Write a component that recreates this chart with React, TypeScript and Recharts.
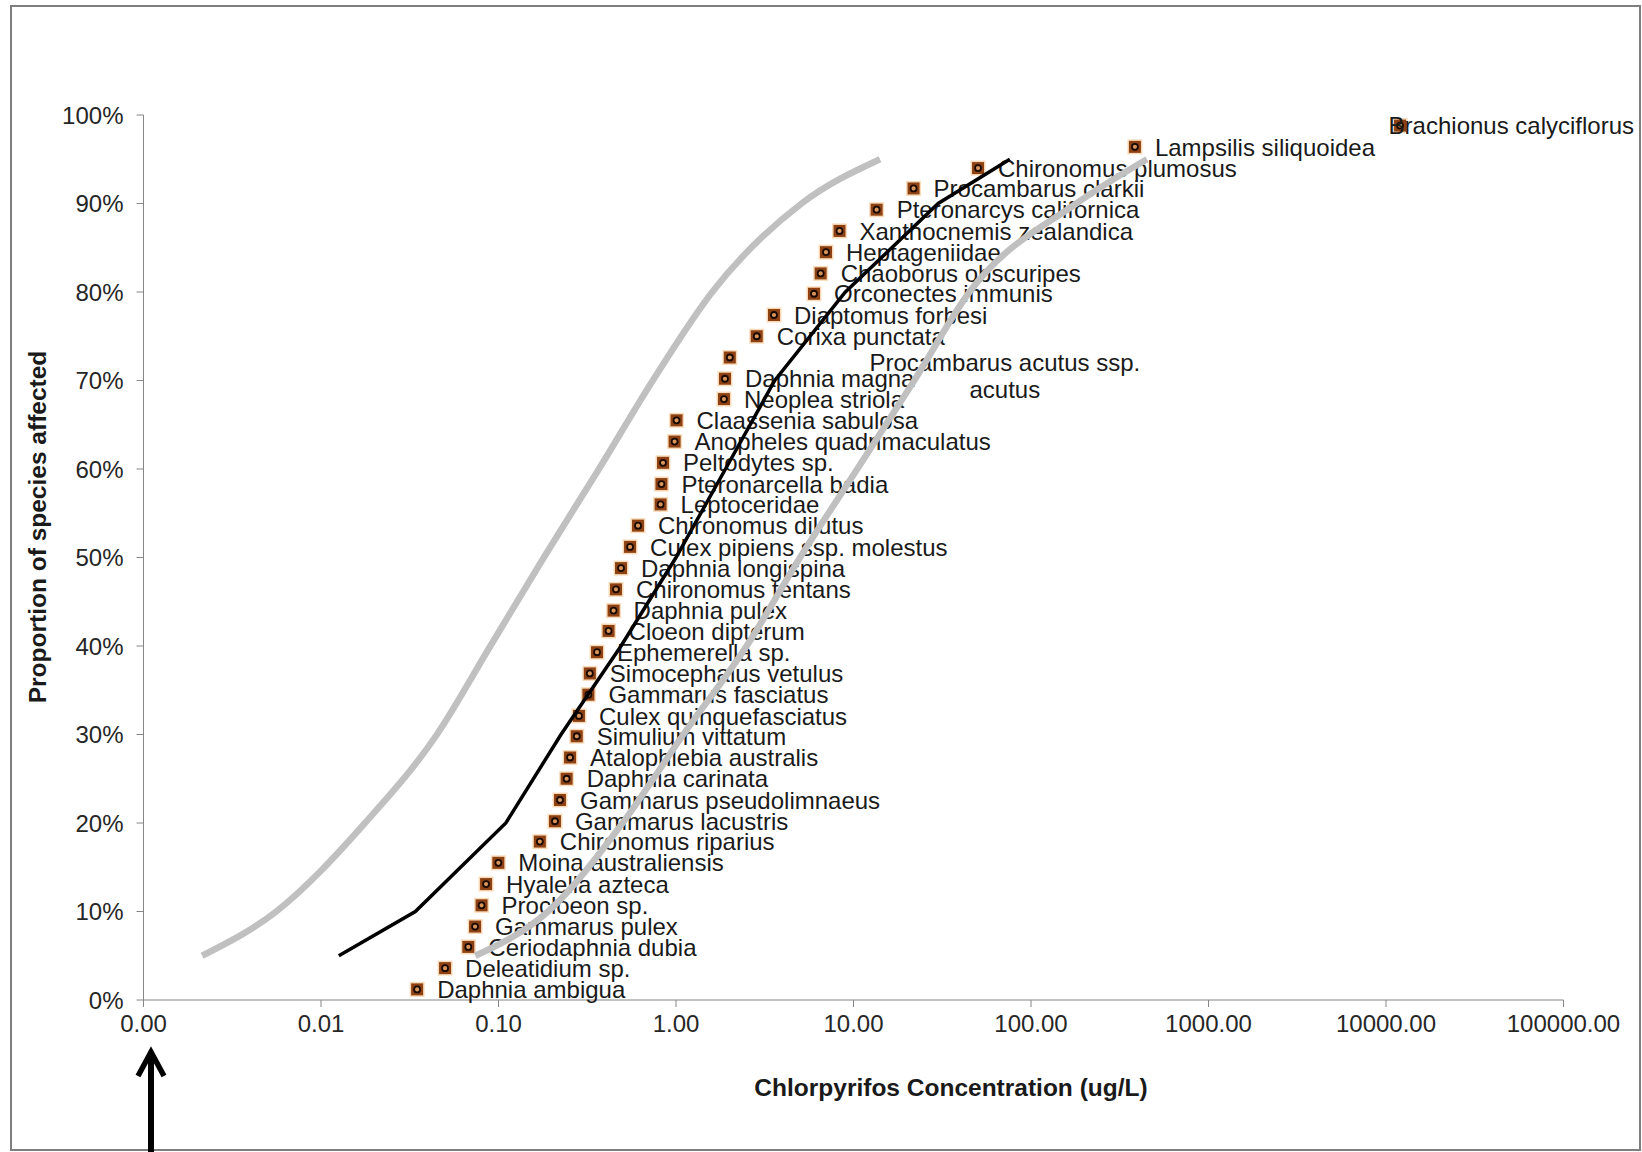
import React from "react";
import { ScatterChart, Scatter, XAxis, YAxis } from "recharts";

// species sensitivity data
const species = [
  "Daphnia ambigua",
  "Deleatidium sp.",
  "Ceriodaphnia dubia",
  "Gammarus pulex",
  "Procloeon sp.",
  "Hyalella azteca",
  "Moina australiensis",
  "Chironomus riparius",
  "Gammarus lacustris",
  "Gammarus pseudolimnaeus",
  "Daphnia carinata",
  "Atalophlebia australis",
  "Simulium  vittatum",
  "Culex quinquefasciatus",
  "Gammarus  fasciatus",
  "Simocephalus vetulus",
  "Ephemerella sp.",
  "Cloeon dipterum",
  "Daphnia pulex",
  "Chironomus tentans",
  "Daphnia longispina",
  "Culex pipiens ssp. molestus",
  "Chironomus dilutus",
  "Leptoceridae",
  "Pteronarcella badia",
  "Peltodytes sp.",
  "Anopheles quadrimaculatus",
  "Claassenia sabulosa",
  "Neoplea striola",
  "Daphnia magna",
  "Procambarus acutus ssp. acutus",
  "Corixa punctata",
  "Diaptomus forbesi",
  "Orconectes immunis",
  "Chaoborus obscuripes",
  "Heptageniidae",
  "Xanthocnemis zealandica",
  "Pteronarcys californica",
  "Procambarus clarkii",
  "Chironomus plumosus",
  "Lampsilis siliquoidea",
  "Brachionus calyciflorus",
];

const speciesConc = [
  0.0348, 0.05, 0.0676, 0.0738, 0.0803, 0.0851, 0.0998, 0.171, 0.208, 0.222,
  0.242, 0.253, 0.276, 0.284, 0.321, 0.327, 0.359, 0.417, 0.445, 0.459, 0.49,
  0.551, 0.611, 0.819, 0.828, 0.845, 0.982, 1.007, 1.863, 1.888, 2.01, 2.85,
  3.565, 5.99, 6.53, 7.0, 8.34, 13.5, 21.8, 50.3, 385, 12000,
];

const speciesProp = [
  0.012, 0.036, 0.06, 0.083, 0.107, 0.131, 0.155, 0.179, 0.202, 0.226, 0.25,
  0.274, 0.298, 0.321, 0.345, 0.369, 0.393, 0.417, 0.44, 0.464, 0.488, 0.512,
  0.536, 0.56, 0.583, 0.607, 0.631, 0.655, 0.679, 0.702, 0.726, 0.75, 0.774,
  0.798, 0.821, 0.845, 0.869, 0.893, 0.917, 0.94, 0.964, 0.988,
];

// fitted distribution and confidence band
const fitProp = [0.05, 0.1, 0.2, 0.3, 0.4, 0.5, 0.6, 0.7, 0.8, 0.9, 0.95];
const medianConc = [0.0126, 0.034, 0.11, 0.225, 0.49, 1.0, 1.9, 3.6, 9.0, 30, 76];
const lowerConc = [0.00214, 0.0056, 0.0177, 0.045, 0.09, 0.18, 0.368, 0.74, 1.6, 5.1, 14.1];
const upperConc = [0.074, 0.19, 0.5, 1.1, 2.5, 5.0, 10.5, 22, 45, 180, 450];

const xTicks = [0.001, 0.01, 0.1, 1, 10, 100, 1000, 10000, 100000];
const yTicks = [0, 0.1, 0.2, 0.3, 0.4, 0.5, 0.6, 0.7, 0.8, 0.9, 1];

const FONT = "'Liberation Sans', Arial, sans-serif";

const speciesData = species.map((name, i) => ({
  x: speciesConc[i],
  y: speciesProp[i],
  name,
}));
const toCurve = (conc: number[]) =>
  conc.map((c, i) => ({ x: c, y: fitProp[i] }));

function SpeciesPoint(props: any) {
  const { cx, cy, payload } = props;
  if (cx == null || cy == null) return <g />;
  const name: string = payload?.name ?? "";
  let label: React.ReactNode;
  if (name === "Procambarus acutus ssp. acutus") {
    label = (
      <text fontFamily={FONT} fontSize={24} fill="#1a1a1a" textAnchor="middle">
        <tspan x={cx + 275} y={cy + 5} dy="0.36em">Procambarus acutus ssp.</tspan>
        <tspan x={cx + 275} y={cy + 32} dy="0.36em">acutus</tspan>
      </text>
    );
  } else if (name === "Brachionus calyciflorus") {
    label = (
      <text x={cx + 234} y={cy} dy="0.36em" fontFamily={FONT} fontSize={24} fill="#1a1a1a" textAnchor="end">
        {name}
      </text>
    );
  } else {
    label = (
      <text x={cx + 20} y={cy} dy="0.36em" fontFamily={FONT} fontSize={24} fill="#1a1a1a">
        {name}
      </text>
    );
  }
  return (
    <g>
      <rect x={cx - 7.5} y={cy - 7.5} width={15} height={15} fill="#f8d2a8" opacity={0.8} />
      <rect x={cx - 6} y={cy - 6} width={12} height={12} fill="#8e4214" />
      <circle cx={cx} cy={cy} r={3} fill="#d7955c" stroke="#1a0900" strokeWidth={1.8} />
      {label}
    </g>
  );
}

const NoDot = () => <g />;

export default function App() {
  return (
    <div
      style={{
        position: "fixed",
        left: 0,
        top: 0,
        width: 1642,
        height: 1152,
        background: "#fff",
      }}
    >
      <ScatterChart
        width={1642}
        height={1152}
        margin={{ top: 115, right: 78.5, left: 83.5, bottom: 92 }}
      >
        <XAxis
          type="number"
          dataKey="x"
          scale="log"
          domain={[0.001, 100000]}
          ticks={xTicks}
          tickFormatter={(v: number) => v.toFixed(2)}
          height={60}
          stroke="#868686"
          tickSize={7}
          tickMargin={8}
          tick={{ fontSize: 24, fill: "#262626", fontFamily: FONT }}
        />
        <YAxis
          type="number"
          dataKey="y"
          domain={[0, 1]}
          ticks={yTicks}
          tickFormatter={(v: number) => `${Math.round(v * 100)}%`}
          width={60}
          stroke="#868686"
          tickSize={7}
          tickMargin={13}
          tick={{ fontSize: 24, fill: "#262626", fontFamily: FONT }}
        />
        <Scatter
          data={speciesData}
          shape={SpeciesPoint}
          isAnimationActive={false}
        />
        <Scatter
          data={toCurve(lowerConc)}
          fill="#c0c0c0"
          line={{ stroke: "#c0c0c0", strokeWidth: 6.5 }}
          lineJointType="monotoneX"
          shape={NoDot}
          isAnimationActive={false}
        />
        <Scatter
          data={toCurve(upperConc)}
          fill="#c0c0c0"
          line={{ stroke: "#c0c0c0", strokeWidth: 6.5 }}
          lineJointType="monotoneX"
          shape={NoDot}
          isAnimationActive={false}
        />
        <Scatter
          data={toCurve(medianConc)}
          fill="#000"
          line={{ stroke: "#000", strokeWidth: 3.5 }}
          lineJointType="linear"
          shape={NoDot}
          isAnimationActive={false}
        />
      </ScatterChart>
      <svg
        width={1642}
        height={1152}
        style={{ position: "absolute", left: 0, top: 0, pointerEvents: "none" }}
      >
        <rect x={11} y={6} width={1629} height={1144} fill="none" stroke="#7f7f7f" strokeWidth={2} />
        <text
          x={37}
          y={527}
          transform="rotate(-90 37 527)"
          textAnchor="middle"
          dy="0.36em"
          fontFamily={FONT}
          fontWeight="bold"
          fontSize={24.5}
          fill="#1a1a1a"
        >
          Proportion of species affected
        </text>
        <text
          x={951}
          y={1087}
          textAnchor="middle"
          dy="0.36em"
          fontFamily={FONT}
          fontWeight="bold"
          fontSize={24.5}
          fill="#1a1a1a"
        >
          Chlorpyrifos Concentration (ug/L)
        </text>
        <line x1={151} y1={1054} x2={151} y2={1152} stroke="#000" strokeWidth={6} />
        <path d="M138 1076 L151 1052 L164 1076" fill="none" stroke="#000" strokeWidth={5.5} />
      </svg>
    </div>
  );
}
